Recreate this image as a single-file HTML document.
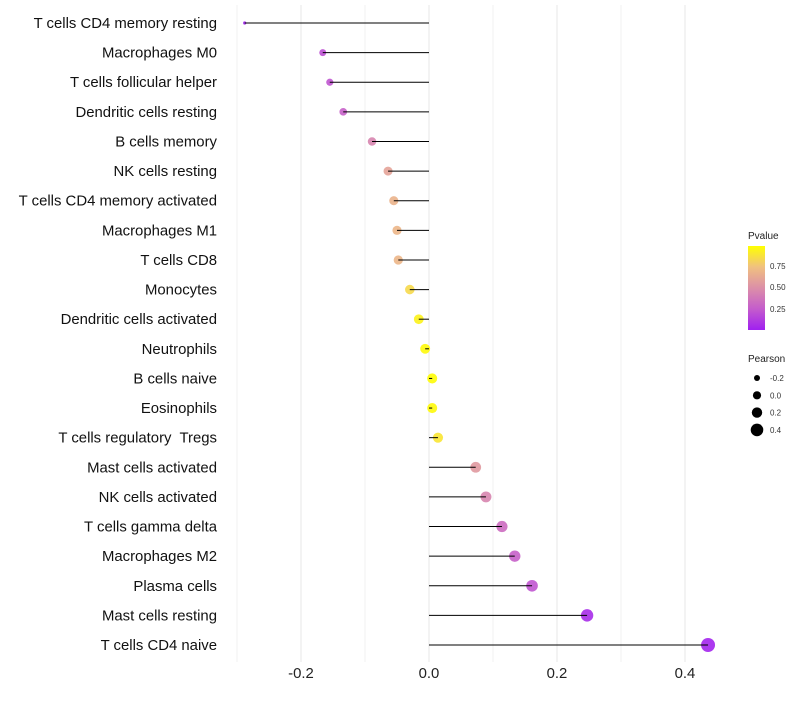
<!DOCTYPE html>
<html><head><meta charset="utf-8"><style>
body{margin:0;background:#fff;font-family:"Liberation Sans",sans-serif}
text{white-space:pre}
</style></head><body>
<svg id="chart" width="800" height="700" xmlns="http://www.w3.org/2000/svg">
<defs><linearGradient id="pg" x1="0" y1="1" x2="0" y2="0">
<stop offset="0" stop-color="#a020f0"/><stop offset="0.25" stop-color="#c45ccc"/><stop offset="0.5" stop-color="#dc8fa8"/><stop offset="0.75" stop-color="#f0c080"/><stop offset="1" stop-color="#ffff00"/></linearGradient></defs>
<g id="grid"></g><g id="marks"></g><g id="labels"></g>
<g>
<text x="748" y="239" font-size="10" fill="#222">Pvalue</text>
<rect x="748" y="246" width="17" height="84" fill="url(#pg)"/>
<text x="770" y="269" font-size="8" fill="#333">0.75</text>
<text x="770" y="290" font-size="8" fill="#333">0.50</text>
<text x="770" y="312" font-size="8" fill="#333">0.25</text>
</g>
<g id="sizeLegend">
<text x="748" y="362" font-size="10" fill="#222">Pearson</text>
</g>
</svg>
<script>
const categories=["T cells CD4 memory resting","Macrophages M0","T cells follicular helper","Dendritic cells resting","B cells memory","NK cells resting","T cells CD4 memory activated","Macrophages M1","T cells CD8","Monocytes","Dendritic cells activated","Neutrophils","B cells naive","Eosinophils","T cells regulatory  Tregs","Mast cells activated","NK cells activated","T cells gamma delta","Macrophages M2","Plasma cells","Mast cells resting","T cells CD4 naive"];
const pearson=[-0.288,-0.166,-0.155,-0.134,-0.089,-0.064,-0.055,-0.050,-0.048,-0.030,-0.016,-0.006,0.005,0.005,0.014,0.073,0.089,0.114,0.134,0.161,0.247,0.436];
const pvalue=[0.01,0.2,0.22,0.27,0.45,0.6,0.68,0.7,0.7,0.85,0.95,0.98,0.99,0.98,0.9,0.55,0.45,0.33,0.27,0.22,0.05,0.02];
const xTicks=[-0.2,0,0.2,0.4];
const xTickLabels=["-0.2","0.0","0.2","0.4"];
const xMinor=[-0.3,-0.1,0.1,0.3];
const sizeLegendVals=[-0.2,0.0,0.2,0.4];
const sizeLegendLabels=["-0.2","0.0","0.2","0.4"];

const NS="http://www.w3.org/2000/svg";
const X=v=>429+v*640;
const Y=i=>23+i*(622/21);
const R=v=>Math.sqrt(Math.max(2.5,25+v*(v<0?78:54.5)));
const stops=[[0,[160,32,240]],[0.25,[196,92,204]],[0.5,[220,143,168]],[0.75,[240,192,128]],[1,[255,255,0]]];
function col(p){for(let i=1;i<stops.length;i++){if(p<=stops[i][0]){const a=stops[i-1],b=stops[i],t=(p-a[0])/(b[0]-a[0]);return "rgb("+a[1].map((c,k)=>Math.round(c+(b[1][k]-c)*t)).join(",")+")";}}return "rgb(255,255,0)";}
function mk(tag,attrs,parent){const e=document.createElementNS(NS,tag);for(const k in attrs)e.setAttribute(k,attrs[k]);parent.appendChild(e);return e;}
const grid=document.getElementById('grid'),marks=document.getElementById('marks'),labels=document.getElementById('labels');
xMinor.forEach(v=>{const l=mk('line',{x1:X(v),x2:X(v),y1:5,y2:662,stroke:'#f0f0f0','stroke-width':1},grid);

});
xTicks.forEach((v,i)=>{const l=mk('line',{x1:X(v),x2:X(v),y1:5,y2:662,stroke:'#ebebeb','stroke-width':1.2},grid);


const t=mk('text',{x:X(v),y:678,'font-size':14.9,'text-anchor':'middle',fill:'#222'},labels);t.textContent=xTickLabels[i];

});
categories.forEach((c,i)=>{const y=Y(i);
const t=mk('text',{x:217,y:y+5,'font-size':14.9,'text-anchor':'end',fill:'#111'},labels);t.textContent=c;


const d=mk('circle',{cx:X(pearson[i]),cy:y,r:R(pearson[i]),fill:col(pvalue[i]),'fill-opacity':0.9},marks);


const l=mk('line',{x1:X(0),x2:X(pearson[i]),y1:y,y2:y,stroke:'#000','stroke-width':1},marks);

});
const sl=document.getElementById('sizeLegend');
sizeLegendVals.forEach((v,i)=>{const y=378+i*17.3;
const d=mk('circle',{cx:757,cy:y,r:3+i*1.1,fill:'#000'},sl);


const t=mk('text',{x:770,y:y+3,'font-size':8,fill:'#333'},sl);t.textContent=sizeLegendLabels[i];

});
</script>
</body></html>
